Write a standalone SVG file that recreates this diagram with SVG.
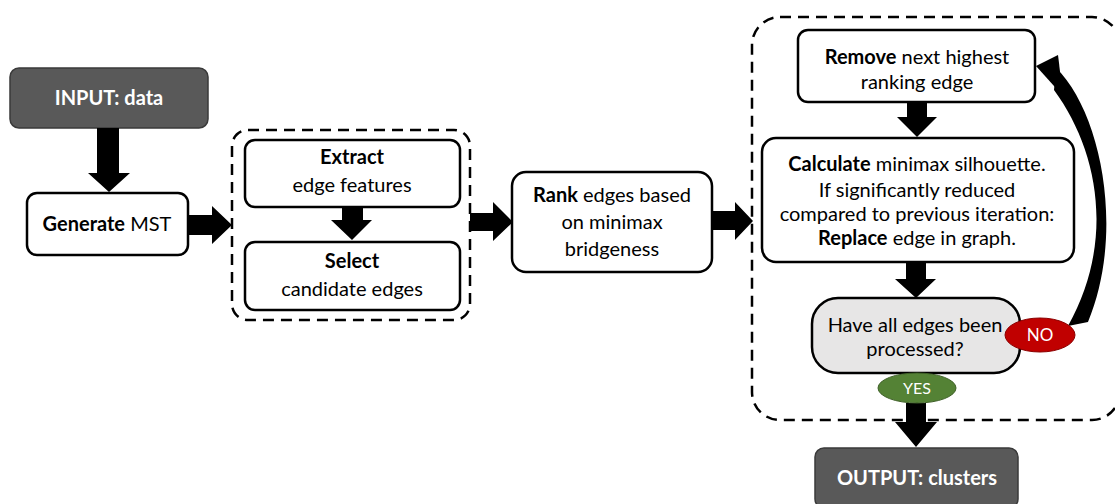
<svg xmlns="http://www.w3.org/2000/svg" width="1115" height="504" viewBox="0 0 1115 504">
<style>
.box{fill:#ffffff;stroke:#000;stroke-width:2.5}
.dark{fill:#595959;stroke:#3a3a3a;stroke-width:1.5}
.grp{fill:none;stroke:#000;stroke-width:2.5;stroke-dasharray:11 7}
.t{font-family:Lato,"Open Sans",sans-serif;font-size:20px;fill:#000;text-anchor:middle}
.w{fill:#fff;font-weight:bold}
.b{font-weight:bold}
.arr{fill:#000}
</style>
<rect width="1115" height="504" fill="#fff"/>
<g id="group1"><rect class="grp" x="232" y="130" width="238" height="190" rx="16"/></g>
<g id="group2"><rect class="grp" x="752" y="17" width="368" height="403" rx="28"/></g>
<g id="input"><rect class="dark" x="10" y="68" width="198" height="60" rx="9"/><text class="t w" x="109" y="105">INPUT: data</text></g>
<g id="generate"><rect class="box" x="27" y="193" width="161" height="62" rx="10"/><text class="t" x="107" y="231"><tspan class="b">Generate</tspan> MST</text></g>
<g id="extract"><rect class="box" x="245" y="140" width="215" height="67" rx="10"/><text class="t" x="352" y="164"><tspan class="b">Extract</tspan></text><text class="t" x="352" y="192">edge features</text></g>
<g id="select"><rect class="box" x="245" y="242" width="215" height="68" rx="10"/><text class="t" x="352" y="268"><tspan class="b">Select</tspan></text><text class="t" x="352" y="296">candidate edges</text></g>
<g id="rank"><rect class="box" x="512" y="172" width="200" height="100" rx="14"/><text class="t" x="612" y="202"><tspan class="b">Rank</tspan> edges based</text><text class="t" x="612" y="229">on minimax</text><text class="t" x="612" y="256">bridgeness</text></g>
<g id="remove"><rect class="box" x="798" y="30" width="237" height="72" rx="10"/><text class="t" x="917" y="64"><tspan class="b">Remove</tspan> next highest</text><text class="t" x="917" y="89">ranking edge</text></g>
<g id="calculate"><rect class="box" x="762" y="138" width="312" height="124" rx="14"/><text class="t" x="917" y="171"><tspan class="b">Calculate</tspan>  minimax silhouette.</text><text class="t" x="917" y="197">If significantly reduced</text><text class="t" x="917" y="221">compared to previous iteration:</text><text class="t" x="917" y="245"><tspan class="b">Replace</tspan> edge in graph.</text></g>
<g id="decision"><rect x="812" y="298" width="208" height="75" rx="26" fill="#e7e6e6" stroke="#000" stroke-width="2.5"/><text class="t" x="915" y="332">Have all edges been</text><text class="t" x="915" y="356">processed?</text></g>
<g id="output"><rect class="dark" x="815" y="448" width="203" height="60" rx="9"/><text class="t w" x="917" y="485">OUTPUT: clusters</text></g>
<g id="connectors">
<polygon class="arr" points="97,128 119,128 119,173 130,173 109,192 88,173 97,173"/>
<polygon class="arr" points="188,215 212,215 212,206 232,225 212,244 212,235 188,235"/>
<polygon class="arr" points="342,207 363,207 363,220 372,220 352,240 331,220 342,220"/>
<polygon class="arr" points="470,213 493,213 493,202 513,222 493,241 493,231 470,231"/>
<polygon class="arr" points="712,211 735,211 735,202 753,221 735,240 735,230 712,230"/>
<polygon class="arr" points="907,102 927,102 927,117 937,117 917,137 897,117 907,117"/>
<polygon class="arr" points="906,262 926,262 926,279 936,279 916,298 895,279 906,279"/>
<polygon class="arr" points="906,403 926,403 926,422 937,422 916,447 895,422 906,422"/>
<path class="arr" d="M1056,68 C1100,110 1126,230 1088,322 L1068,326 C1116,240 1098,150 1054,90 Z"/>
<polygon class="arr" points="1036,66 1058,55 1063,96"/>
</g>
<g id="no"><ellipse cx="1040" cy="335" rx="35" ry="17" fill="#c00000" stroke="#8b0000" stroke-width="1"/><text class="t" x="1040" y="341" style="fill:#fff;font-size:17px">NO</text></g>
<g id="yes"><ellipse cx="917" cy="388" rx="39" ry="15" fill="#548235" stroke="#3d5f26" stroke-width="1"/><text class="t" x="917" y="394" style="fill:#fff;font-size:16px">YES</text></g>
</svg>
